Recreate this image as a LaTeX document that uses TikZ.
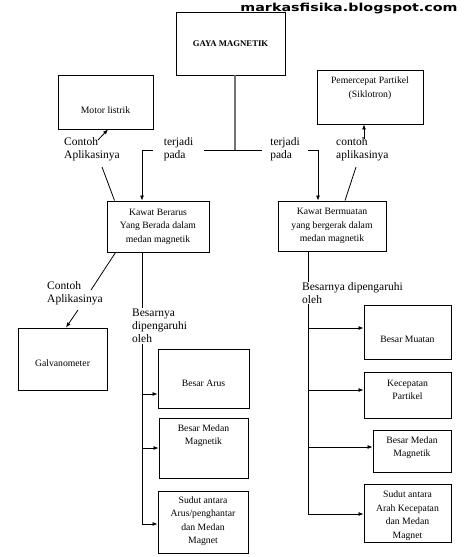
\documentclass[tikz,border=0pt]{standalone}
\usepackage{fontspec}
\setmainfont{Liberation Serif}
\newfontfamily\blogfont{DejaVu Sans}
\usepackage{graphicx}
\usetikzlibrary{arrows.meta, positioning, calc}

\begin{document}
\begin{tikzpicture}[
  x=1pt, y=-1pt,
  box/.style={rectangle, draw, line width=0.9pt, fill=white, inner sep=0pt},
  boxtext/.style={align=center, font=\fontsize{9.7}{13.5}\selectfont, inner sep=0pt},
  note/.style={align=left, font=\fontsize{11.5}{12.8}\selectfont, inner sep=1pt},
  cover/.style={fill=white},
  link/.style={line width=0.8pt},
  arr/.style={link, -{Latex[length=5pt, width=4pt]}},
]
  \useasboundingbox (0,0) rectangle (464,557);

  % Top
  \node[box, minimum width=109pt, minimum height=63pt] (gaya) at (230.5,43.5) {};
  \node[boxtext, font=\bfseries\fontsize{8.7}{12}\selectfont] (gaya-t) at (gaya.center) {GAYA MAGNETIK};

  % Applications
  \node[box, minimum width=95pt, minimum height=54pt] (motor) at (105.5,102) {};
  \node[boxtext] (motor-t) at ([yshift=-8pt]motor.center) {Motor  listrik};
  \node[box, minimum width=106pt, minimum height=54pt] (pemercepat) at (370,97) {};
  \node[boxtext] (pemercepat-t) at ([yshift=9pt]pemercepat.center) {Pemercepat  Partikel\\(Siklotron)};

  % Second level
  \node[box, minimum width=102pt, minimum height=51pt] (berarus) at (158,226.5) {};
  \node[boxtext] (berarus-t) at (berarus.center) {Kawat  Berarus\\Yang Berada  dalam\\medan magnetik};
  \node[box, minimum width=108pt, minimum height=50pt] (bermuatan) at (332,226) {};
  \node[boxtext] (bermuatan-t) at (bermuatan.center) {Kawat  Bermuatan\\yang bergerak  dalam\\medan magnetik};

  % Left side
  \node[box, minimum width=89pt, minimum height=62pt] (galvano) at (62.5,359) {};
  \node[boxtext] (galvano-t) at ([yshift=-4pt]galvano.center) {Galvanometer};
  \node[box, minimum width=91pt, minimum height=59pt] (arus) at (203.5,378.5) {};
  \node[boxtext] (arus-t) at ([yshift=-4.5pt]arus.center) {Besar Arus};
  \node[box, minimum width=89pt, minimum height=60pt] (medanL) at (203.5,448) {};
  \node[boxtext] (medanL-t) at ([yshift=12.5pt]medanL.center) {Besar Medan\\Magnetik};
  \node[box, minimum width=90pt, minimum height=62pt] (sudutL) at (203,522) {};
  \node[boxtext] (sudutL-t) at ([yshift=1pt]sudutL.center) {Sudut antara\\Arus/penghantar\\dan Medan\\Magnet};

  % Right side
  \node[box, minimum width=87pt, minimum height=54pt] (muatan) at (407.5,332) {};
  \node[boxtext] (muatan-t) at ([yshift=-7pt]muatan.center) {Besar Muatan};
  \node[box, minimum width=87pt, minimum height=46pt] (kecepatan) at (407.5,395) {};
  \node[boxtext] (kecepatan-t) at ([yshift=5pt]kecepatan.center) {Kecepatan\\Partikel};
  \node[box, minimum width=78pt, minimum height=42pt] (medanR) at (412,451) {};
  \node[boxtext] (medanR-t) at ([yshift=3.5pt]medanR.center) {Besar Medan\\Magnetik};
  \node[box, minimum width=87pt, minimum height=58pt] (sudutR) at (407.5,513) {};
  \node[boxtext] (sudutR-t) at ([yshift=-2.5pt]sudutR.center) {Sudut antara\\Arah Kecepatan\\dan Medan\\Magnet};

  % Connectors
  \coordinate (split) at (235,150);
  \draw[link, line width=1.5pt, black!55] (gaya.south -| split) -- (split);
  \draw[arr] (split) -| ([xshift=-16pt]berarus.north);
  \draw[arr] (split) -| ([xshift=-14pt]bermuatan.north);

  \coordinate (motorcut) at (102,167);
  \coordinate (motorfrom) at (98,140);
  \draw[link] ([xshift=8pt]berarus.north west) -- (motorcut);
  \draw[arr] (motorfrom) -- ([xshift=2.5pt]motor.south);

  \coordinate (pemcut) at (356,167);
  \coordinate (pemfrom) at (364,139);
  \draw[link] ([xshift=13pt]bermuatan.north) -- (pemcut);
  \draw[arr] (pemfrom) -- ([xshift=-6pt]pemercepat.south);

  \coordinate (galcut) at (91,290);
  \coordinate (galfrom) at (78,310);
  \draw[link] ([xshift=9pt]berarus.south west) -- (galcut);
  \draw[arr] (galfrom) -- ([xshift=3.5pt]galvano.north);

  \coordinate (trunkL) at ([xshift=-16pt]berarus.south);
  \draw[arr] (trunkL) |- ([yshift=-15.5pt]arus.west);
  \draw[arr] (trunkL) |- (medanL.west);
  \draw[arr] (trunkL) |- ([yshift=-2pt]sudutL.west);

  \coordinate (trunkR) at ([xshift=-24pt]bermuatan.south);
  \draw[arr] (trunkR) |- ([yshift=4pt]muatan.west);
  \draw[arr] (trunkR) |- ([yshift=5pt]kecepatan.west);
  \draw[arr] (trunkR) |- ([yshift=4pt]medanR.west);
  \draw[arr] (trunkR) |- ([yshift=-1pt]sudutR.west);

  % Labels
  \node[note, anchor=west] (contoh1) at (63,149.5) {Contoh\\Aplikasinya};
  \node[note, cover, minimum width=51pt] (terjadi1) at (178.5,149.5) {terjadi\\pada};
  \node[note, cover, minimum width=46pt] (terjadi2) at (285,149.5) {terjadi\\pada};
  \node[note, anchor=west] (contoh2) at (335,149.5) {contoh\\aplikasinya};
  \node[note, anchor=west] (contoh3) at (46,293) {Contoh\\Aplikasinya};
  \node[note, cover, anchor=west] (besarnya1) at (131,326) {Besarnya\\dipengaruhi\\oleh};
  \node[note, cover, anchor=west] (besarnya2) at (301,293) {Besarnya dipengaruhi\\oleh};

  % Blog name
  \node[font=\blogfont\bfseries\fontsize{11}{13}\selectfont, inner sep=0pt] (blog) at (349,9) {\scalebox{1.3}[1]{markasfisika.blogspot.com}};
\end{tikzpicture}
\end{document}
